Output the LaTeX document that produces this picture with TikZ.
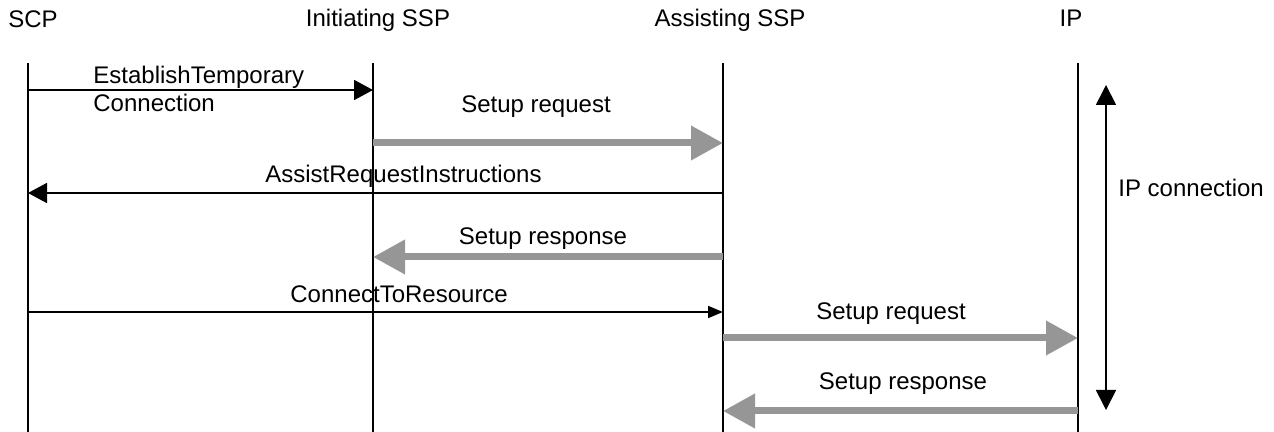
\documentclass[tikz,border=0pt]{standalone}
\usepackage{fontspec}
\setmainfont{Liberation Sans}
\usetikzlibrary{arrows.meta}

\begin{document}
\begin{tikzpicture}[x=0.5pt,y=-0.5pt,
   font=\fontsize{12}{14.4}\selectfont,
   every node/.style={inner sep=0pt},
   life/.style={line width=0.7pt},
   msg/.style={line width=0.9pt,-{Triangle[length=9.5pt,width=10pt]}},
   smallmsg/.style={line width=0.9pt,-{Triangle[length=7.5pt,width=6pt]}},
   setup/.style={line width=3.5pt,black!41,-{Triangle[length=16pt,width=16.5pt]}}]
   \useasboundingbox (0,0) rectangle (1274,432);
   % lifelines
   \foreach \n/\x in {scp/28,issp/373,assp/723,ip/1078} {
    \coordinate (\n) at (\x,63);
    \draw[life] (\n) -- ++(0,369);
   }
   \node[anchor=base west] (scp head) at (8,28) {SCP};
   \node[anchor=base] (issp head) at (378,27) {Initiating SSP};
   \node[anchor=base] (assp head) at (730,27) {Assisting SSP};
   \node[anchor=base] (ip head) at (1071,27) {IP};
   % message rows
   \coordinate (r1) at (0,90);
   \coordinate (r2) at (0,143);
   \coordinate (r3) at (0,193);
   \coordinate (r4) at (0,257);
   \coordinate (r5) at (0,312);
   \coordinate (r6) at (0,338);
   \coordinate (r7) at (0,411);
   \draw[msg] (scp |- r1) -- (issp |- r1);
   \node[anchor=base west,align=left] (etc) at (93,112) {EstablishTemporary\\Connection};
   \draw[setup] (issp |- r2) -- (assp |- r2);
   \node[anchor=base] (req1) at (536,113) {Setup request};
   \draw[msg] (assp |- r3) -- (scp |- r3);
   \node[anchor=base west] (ari) at (265,183) {AssistRequestInstructions};
   \draw[setup] (assp |- r4) -- (issp |- r4);
   \node[anchor=base] (resp1) at (543,245) {Setup response};
   \draw[smallmsg] (scp |- r5) -- (assp |- r5);
   \node[anchor=base west] (ctr) at (290,303) {ConnectToResource};
   \draw[setup] (assp |- r6) -- (ip |- r6);
   \node[anchor=base] (req2) at (891,320) {Setup request};
   \draw[setup] (ip |- r7) -- (assp |- r7);
   \node[anchor=base] (resp2) at (903,390) {Setup response};
   % IP connection
   \coordinate (con top) at (1106,85);
   \coordinate (con bot) at (1106,410);
   \draw[line width=0.9pt,{Triangle[length=10pt,width=10pt]}-{Triangle[length=10pt,width=10pt]}] (con top) -- (con bot);
   \node[anchor=base west] (con) at (1118,197) {IP connection};
\end{tikzpicture}
\end{document}
